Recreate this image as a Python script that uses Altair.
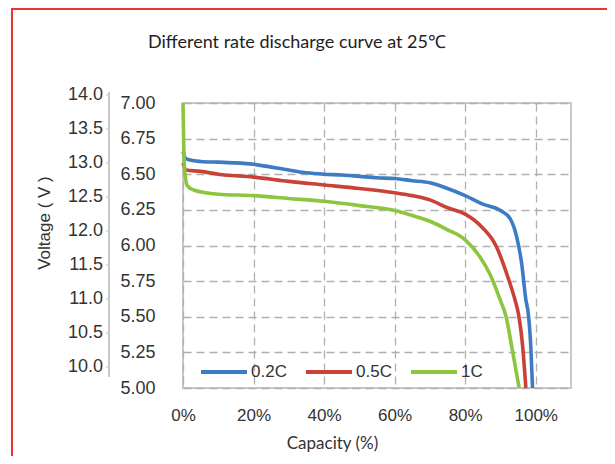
import altair as alt
import pandas as pd

# ---- data ----
series_names = ["0.2C", "0.5C", "1C"]
series_colors = ["#3d7bc4", "#c94137", "#8cc63e"]

blue_cap = [0, 0.8, 2, 5, 10, 15, 20, 25, 30, 35, 40, 45, 50, 55, 60, 65, 70, 75, 80, 85, 90, 92.7, 94.6, 96, 97.2, 97.9, 98.6, 99.1]
blue_v = [6.66, 6.61, 6.60, 6.59, 6.585, 6.58, 6.57, 6.55, 6.53, 6.51, 6.50, 6.495, 6.485, 6.475, 6.47, 6.455, 6.44, 6.40, 6.35, 6.29, 6.245, 6.19, 6.06, 5.875, 5.62, 5.52, 5.29, 5.0]

red_cap = [0, 0.8, 5, 10, 20, 30, 40, 50, 60, 65, 70, 75, 80, 84.7, 88.9, 91.8, 94.1, 95.1, 96.3, 97.2]
red_v = [6.58, 6.53, 6.52, 6.50, 6.48, 6.45, 6.425, 6.40, 6.37, 6.35, 6.32, 6.265, 6.22, 6.13, 5.99, 5.80, 5.62, 5.52, 5.29, 5.0]

green_cap = [0, 0.4, 1.2, 3, 10, 20, 30, 40, 50, 60, 65, 70, 75, 80, 84.2, 87, 89.9, 91.6, 93.2, 95.3]
green_v = [7.0, 6.55, 6.42, 6.39, 6.36, 6.35, 6.33, 6.31, 6.28, 6.245, 6.21, 6.17, 6.11, 6.04, 5.92, 5.80, 5.62, 5.50, 5.29, 5.0]

x_ticks = list(range(0, 101, 10))
y_ticks_6v = [5.0, 5.25, 5.5, 5.75, 6.0, 6.25, 6.5, 6.75, 7.0]
y_ticks_12v = [10.0, 10.5, 11.0, 11.5, 12.0, 12.5, 13.0, 13.5, 14.0]

rows = []
for name, caps, vs in [("0.2C", blue_cap, blue_v), ("0.5C", red_cap, red_v), ("1C", green_cap, green_v)]:
    for c, v in zip(caps, vs):
        rows.append({"cap": c, "v": v, "series": name})
df = pd.DataFrame(rows)

grid_color = "#b0b0b0"
text_color = "#333333"

x_enc = alt.X(
    "cap:Q",
    scale=alt.Scale(domain=[0, 110], nice=False),
    axis=alt.Axis(
        values=x_ticks,
        labelExpr="datum.value % 20 == 0 ? datum.value + '%' : ''",
        labelFlush=False,
        grid=True, gridDash=[8, 5], gridColor=grid_color, gridWidth=1.3,
        ticks=False, tickSize=0, domain=False,
        labelFont="Liberation Sans", labelFontSize=17, labelColor=text_color,
        labelPadding=19,
        title="Capacity (%)", titleFont="Lato", titleFontSize=17,
        titleFontWeight="normal", titleColor=text_color,
        titleX=149, titleY=47, titleBaseline="top", titleAlign="center",
    ),
)

lines = alt.Chart(df).mark_line(strokeWidth=3.6, interpolate="monotone").encode(
    x=x_enc,
    y=alt.Y(
        "v:Q",
        scale=alt.Scale(domain=[5, 7], nice=False, zero=False),
        axis=alt.Axis(
            orient="left", values=y_ticks_6v, format=".2f",
            grid=True, gridDash=[8, 5], gridColor=grid_color, gridWidth=1.3,
            ticks=False, tickSize=0, domain=False,
            labelAlign="left", labelPadding=63,
            labelFont="Liberation Sans", labelFontSize=18, labelColor=text_color,
            title=None,
        ),
    ),
    color=alt.Color(
        "series:N",
        scale=alt.Scale(domain=series_names, range=series_colors),
        legend=alt.Legend(
            title=None, orient="none", legendX=16, legendY=244,
            direction="horizontal", symbolType="stroke", symbolSize=2116,
            symbolStrokeWidth=4, labelFont="Liberation Sans", labelFontSize=17,
            labelColor=text_color, labelOffset=2, columnPadding=11, padding=0,
        ),
    ),
)

left_axis = alt.Chart(df).transform_calculate(v12="datum.v * 2").mark_line(opacity=0).encode(
    x=alt.X("cap:Q"),
    y=alt.Y(
        "v12:Q",
        scale=alt.Scale(domain=[9.853, 14.044], nice=False, zero=False),
        axis=alt.Axis(
            orient="left", values=y_ticks_12v, format=".1f",
            offset=63, translate=-11,
            grid=False, domain=True, domainColor="#c8c8c8", domainWidth=2,
            ticks=True, tickSize=3, tickColor="#c8c8c8",
            labelPadding=3,
            labelFont="Liberation Sans", labelFontSize=18, labelColor=text_color,
            title="Voltage ( V )", titleFont="Liberation Sans", titleFontSize=17,
            titleFontWeight="normal", titleColor=text_color,
            titleX=-64, titleY=131, titleBaseline="middle", titleAlign="center",
            titleAngle=270,
        ),
    ),
)

frame = alt.Chart(pd.DataFrame({"a": [0]})).mark_rect(
    fill=None, stroke="#e8362c", strokeWidth=2
).encode(
    x=alt.value(-171), x2=alt.value(700), y=alt.value(-94), y2=alt.value(600)
)

chart = alt.layer(frame, left_axis, lines).resolve_scale(y="independent").properties(
    width=388, height=285,
    autosize=alt.AutoSizeParams(type="none"),
    padding={"left": 175, "top": 95, "right": 36, "bottom": 68},
    title=alt.TitleParams(
        "Different rate discharge curve at 25℃",
        font="Lato", fontSize=18, fontWeight="normal", color="#222222",
        anchor="start", frame="group", dx=-35, offset=-44,
    ),
).configure_view(stroke="#c8c8c8", strokeWidth=2)

chart.save("out.html", embed_options={"renderer": "svg", "actions": False})
